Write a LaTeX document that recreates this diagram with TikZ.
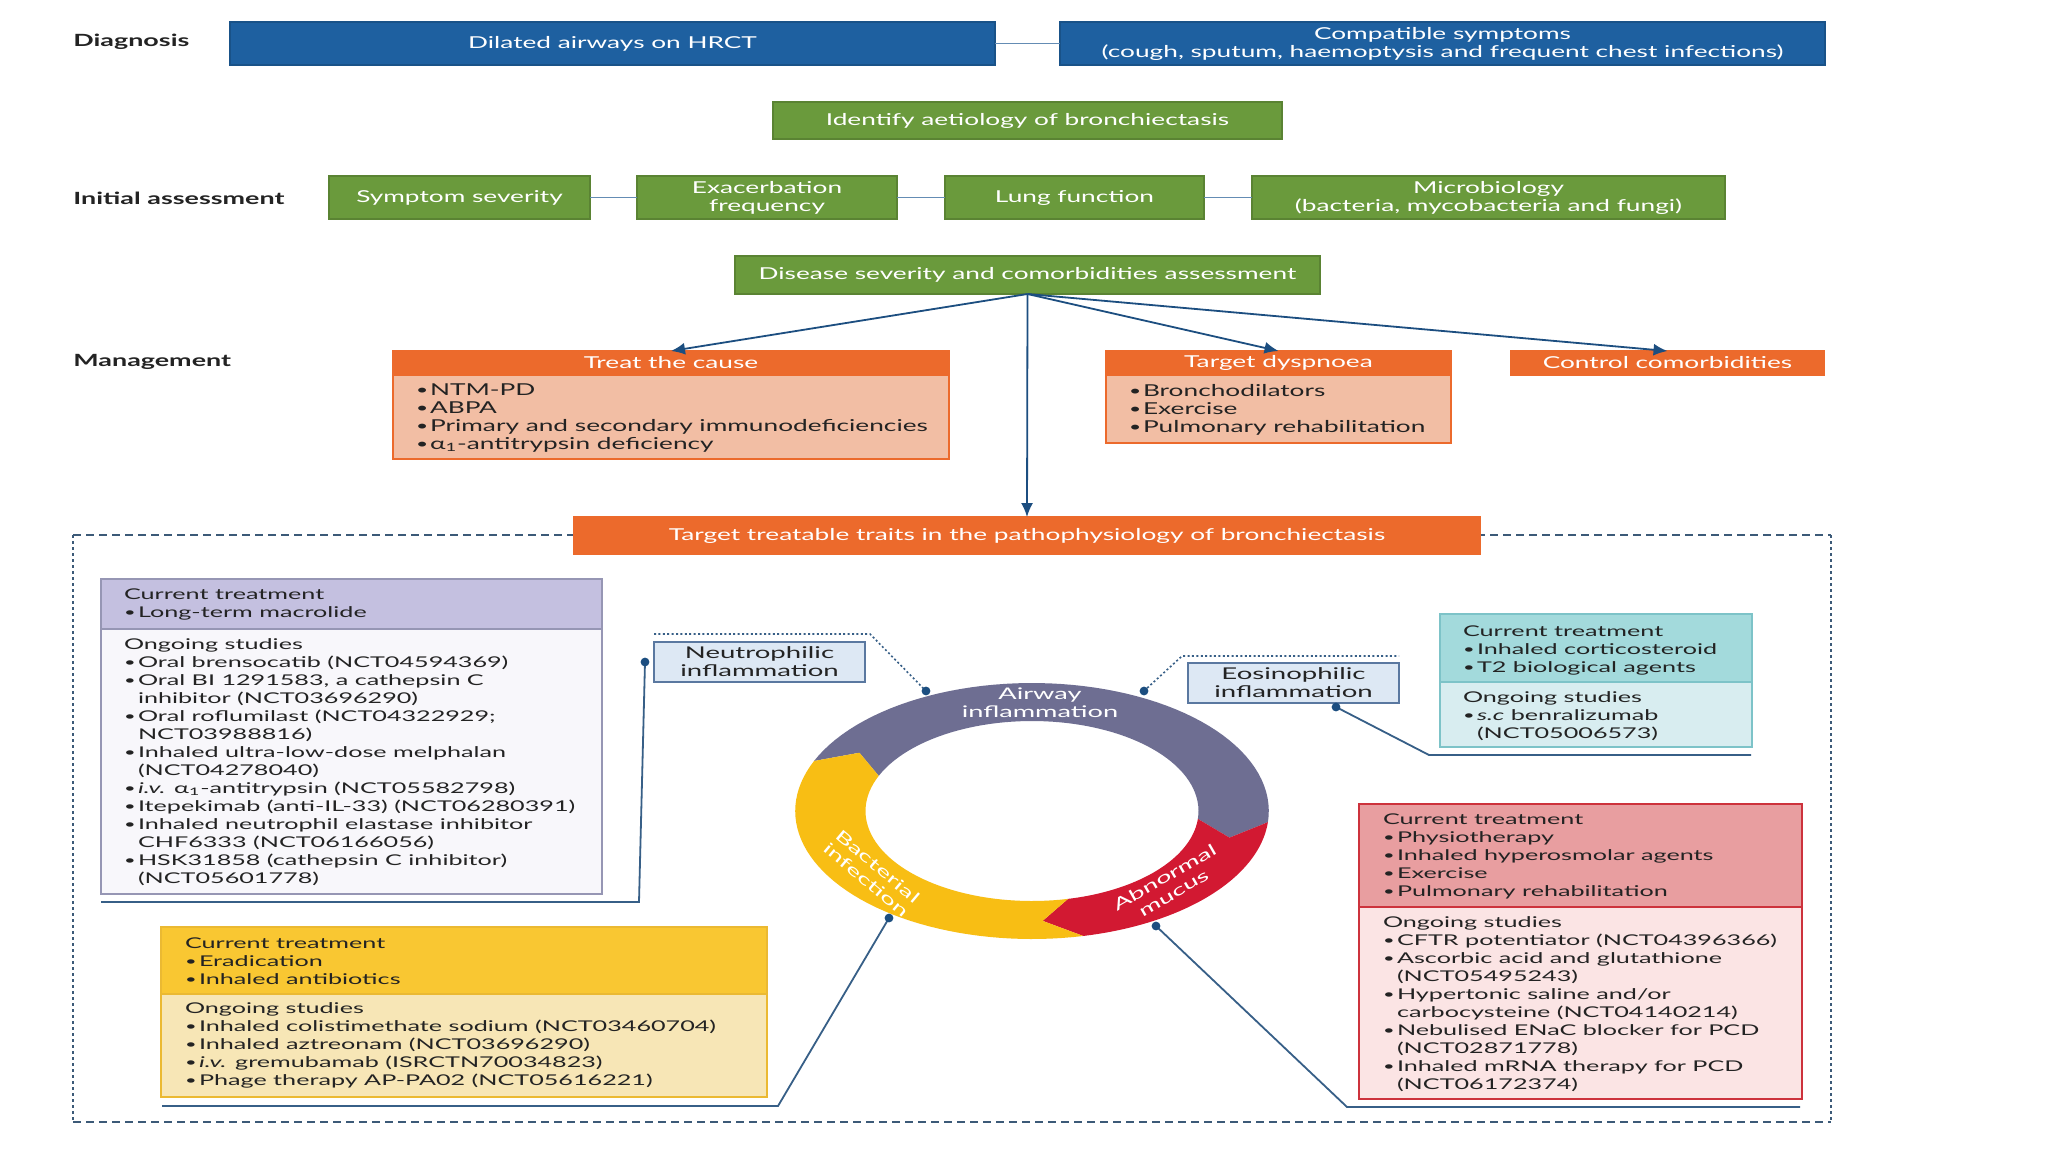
\documentclass[tikz,border=0pt]{standalone}
\usepackage{fontspec}
\usepackage{graphicx}
\setmainfont[FakeStretch=1.6]{Lato}
\newfontfamily\lowfont[FakeStretch=1.7]{Lato}
\usetikzlibrary{arrows.meta,calc}
\definecolor{dblue}{RGB}{30,96,160}
\definecolor{dgreen}{RGB}{106,154,60}
\definecolor{dorange}{RGB}{236,106,44}
\definecolor{salmon}{RGB}{242,190,164}
\definecolor{tdark}{RGB}{35,35,35}
\definecolor{cblue}{RGB}{100,140,180}
\definecolor{ablue}{RGB}{28,78,128}
\definecolor{lblue}{RGB}{55,95,135}
\definecolor{lavh}{RGB}{196,192,224}
\definecolor{lavb}{RGB}{248,247,251}
\definecolor{lavd}{RGB}{150,150,180}
\definecolor{teah}{RGB}{163,218,220}
\definecolor{teab}{RGB}{216,237,240}
\definecolor{tead}{RGB}{125,195,200}
\definecolor{redh}{RGB}{232,158,160}
\definecolor{redb}{RGB}{251,228,228}
\definecolor{redd}{RGB}{205,50,60}
\definecolor{yelh}{RGB}{249,199,50}
\definecolor{yelb}{RGB}{247,230,182}
\definecolor{yeld}{RGB}{235,185,50}
\definecolor{ringgray}{RGB}{110,110,146}
\definecolor{ringyel}{RGB}{248,190,20}
\definecolor{ringred}{RGB}{210,25,50}
\definecolor{infl}{RGB}{221,232,244}
\definecolor{infld}{RGB}{90,120,160}
\definecolor{cont}{RGB}{60,90,120}
\newcommand\ftop{\fontsize{8.2}{9}\selectfont}
\newcommand\fhd{\fontsize{8.2}{9}\selectfont}
\newcommand\fsm{\fontsize{8.2}{9}\selectfont}
\newcommand\flbl{\bfseries\fontsize{8.4}{9}\selectfont}
\newcommand\flow{\lowfont\fontsize{7.4}{9}\selectfont}
\newcommand\finf{\lowfont\fontsize{8.1}{9}\selectfont}
\newcommand\fring{\lowfont\fontsize{8}{9}\selectfont}
\newcommand\bl{\makebox[7pt][l]{\raisebox{0.1ex}{\scalebox{0.8}{\textbullet}}}}
\newcommand\ci{\hspace*{7pt}}
\newcommand\fl{\rule{0pt}{6pt}}
\newcommand\aone{α\textsubscript{1}}
\begin{document}
\begin{tikzpicture}[x=0.5pt,y=-0.5pt,
  box/.style={rectangle, draw, inner sep=0pt, outer sep=0pt, line width=0.6pt, align=center},
  bluebox/.style={box, fill=dblue, draw=dblue!85!black, text=white, font=\ftop},
  greenbox/.style={box, fill=dgreen, draw=dgreen!85!black, text=white, font=\ftop},
  orbox/.style={box, fill=dorange, draw=dorange, text=white, font=\fhd},
  salbody/.style={box, fill=salmon, draw=dorange},
  inflbox/.style={box, fill=infl, draw=infld, text=tdark, font=\finf},
  txt/.style={inner sep=0pt, outer sep=0pt, align=left, anchor=north west, text=tdark},
  lbl/.style={inner sep=0pt, anchor=west, font=\flbl, text=tdark},
  conn/.style={draw=cblue, line width=0.7pt},
  arr/.style={draw=ablue, line width=0.9pt, -{Latex[length=7pt,width=6pt]}},
  lconn/.style={draw=lblue, line width=0.9pt},
  dconn/.style={draw=lblue, line width=0.8pt, dash pattern=on 1pt off 1.2pt},
  hdash/.style={draw=cont, line width=0.6pt, dash pattern=on 4pt off 2.5pt},
  vdash/.style={draw=cont, line width=0.6pt, dash pattern=on 1.5pt off 1.5pt},
  ringtxt/.style={text=white, font=\fring, align=center, inner sep=0pt}
]
\fill[white] (0,0) rectangle (2048,1152);
\useasboundingbox (0,0) rectangle (2048,1152);

% container
\draw[hdash] (73,535) -- (1831,535);
\draw[hdash] (73,1122) -- (1831,1122);
\draw[vdash] (73,535) -- (73,1122);
\draw[vdash] (1831,535) -- (1831,1122);

% ---- top
\node[lbl] (ldiag) at (73,42) {Diagnosis};
\node[bluebox, minimum width=382.5pt, minimum height=21.5pt] (dil) at (612.5,43.5) {Dilated airways on HRCT};
\node[bluebox, minimum width=382.5pt, minimum height=21.5pt] (comp) at (1442.5,43.5) {Compatible symptoms\\(cough, sputum, haemoptysis and frequent chest infections)};
\draw[conn] (dil) -- (comp);

\node[greenbox, minimum width=254.5pt, minimum height=18.5pt] (aet) at (1027.5,120.5) {Identify aetiology of bronchiectasis};

\node[lbl] (linit) at (73,198) {Initial assessment};
\node[greenbox, minimum width=130.5pt, minimum height=21.5pt] (sym) at (459.5,197.5) {Symptom severity};
\node[greenbox, minimum width=130pt, minimum height=21.5pt] (exa) at (767,197.5) {Exacerbation\\frequency};
\node[greenbox, minimum width=129.5pt, minimum height=21.5pt] (lung) at (1074.5,197.5) {Lung function};
\node[greenbox, minimum width=236.5pt, minimum height=21.5pt] (micro) at (1488.5,197.5) {Microbiology\\(bacteria, mycobacteria and fungi)};
\draw[conn] (sym) -- (exa);
\draw[conn] (exa) -- (lung);
\draw[conn] (lung) -- (micro);

\node[greenbox, minimum width=292.5pt, minimum height=19pt] (dis) at (1027.5,275) {Disease severity and comorbidities assessment};

% ---- management
\node[lbl] (lman) at (73,362) {Management};
\node[orbox, minimum width=278pt, minimum height=12pt] (treat) at (671,363) {Treat the cause};
\node[salbody, minimum width=278pt, minimum height=42pt, anchor=north] (treatb) at (treat.south) {};
\node[txt, font=\fsm] (treatt) at (416,383) {\fl\bl NTM-PD\\\bl ABPA\\\bl Primary and secondary immunodeficiencies\\\bl \aone-antitrypsin deficiency};

\node[orbox, minimum width=172.5pt, minimum height=12pt] (dysp) at (1278.5,363) {Target dyspnoea};
\node[salbody, minimum width=172.5pt, minimum height=34pt, anchor=north] (dyspb) at (dysp.south) {};
\node[txt, font=\fsm] (dyspt) at (1129,384) {\fl\bl Bronchodilators\\\bl Exercise\\\bl Pulmonary rehabilitation};

\node[orbox, minimum width=156.5pt, minimum height=12pt] (ctrl) at (1667.5,363) {Control comorbidities};

\node[orbox, font=\ftop, minimum width=453.5pt, minimum height=18.5pt] (traits) at (1027,535.5) {Target treatable traits in the pathophysiology of bronchiectasis};

\draw[arr] (dis.south) -- (treat.north);
\draw[arr] (dis.south) -- (dysp.north);
\draw[arr] (dis.south) -- (ctrl.north);
\draw[arr] (dis.south) -- (traits.north);

% ---- ring
\def\cx{1032}\def\cy{811}\def\sx{1.85}\def\Ro{128}\def\Ri{90}\def\Rm{110}
\fill[ringgray] plot[domain=157:-5,samples=60] ({\cx+\sx*\Ro*cos(\x)},{\cy-\Ro*sin(\x)})
  -- ({\cx+\sx*\Rm*cos(-14)},{\cy-\Rm*sin(-14)})
  -- plot[domain=-5:157,samples=60] ({\cx+\sx*\Ri*cos(\x)},{\cy-\Ri*sin(\x)})
  -- ({\cx+\sx*\Rm*cos(148)},{\cy-\Rm*sin(148)}) -- cycle;
\fill[ringred] plot[domain=-5:-77.5,samples=40] ({\cx+\sx*\Ro*cos(\x)},{\cy-\Ro*sin(\x)})
  -- ({\cx+\sx*\Rm*cos(-87)},{\cy-\Rm*sin(-87)})
  -- plot[domain=-77.5:-5,samples=40] ({\cx+\sx*\Ri*cos(\x)},{\cy-\Ri*sin(\x)})
  -- ({\cx+\sx*\Rm*cos(-14)},{\cy-\Rm*sin(-14)}) -- cycle;
\fill[ringyel] plot[domain=-77.5:-203,samples=50] ({\cx+\sx*\Ro*cos(\x)},{\cy-\Ro*sin(\x)})
  -- ({\cx+\sx*\Rm*cos(-212)},{\cy-\Rm*sin(-212)})
  -- plot[domain=-203:-77.5,samples=50] ({\cx+\sx*\Ri*cos(\x)},{\cy-\Ri*sin(\x)})
  -- ({\cx+\sx*\Rm*cos(-87)},{\cy-\Rm*sin(-87)}) -- cycle;
\node[ringtxt] (airw) at (1040,703) {Airway\\inflammation};
\node[ringtxt, rotate=-40] (bact) at (872,873) {Bacterial\\infection};
\node[ringtxt, rotate=30] (abn) at (1169,885) {Abnormal\\mucus};

% ---- purple (neutrophilic)
\node[box, fill=lavh, draw=lavd, minimum width=250.5pt, minimum height=25pt] (ph) at (351.5,604) {};
\node[box, fill=lavb, draw=lavd, minimum width=250.5pt, minimum height=132.5pt, anchor=north] (pb) at (ph.south) {};
\node[txt, font=\flow] (pht) at (124,587) {\fl Current treatment\\\bl Long-term macrolide};
\node[txt, font=\flow] (pbt) at (124,637) {\fl Ongoing studies\\
\bl Oral brensocatib (NCT04594369)\\
\bl Oral BI 1291583, a cathepsin C\\
\ci inhibitor (NCT03696290)\\
\bl Oral roflumilast (NCT04322929;\\
\ci NCT03988816)\\
\bl Inhaled ultra-low-dose melphalan\\
\ci (NCT04278040)\\
\bl \textit{i.v.} \aone-antitrypsin (NCT05582798)\\
\bl Itepekimab (anti-IL-33) (NCT06280391)\\
\bl Inhaled neutrophil elastase inhibitor\\
\ci CHF6333 (NCT06166056)\\
\bl HSK31858 (cathepsin C inhibitor)\\
\ci (NCT05601778)};

\node[inflbox, minimum width=105.5pt, minimum height=20pt] (neu) at (759.5,662) {Neutrophilic\\inflammation};
\node[inflbox, minimum width=105.5pt, minimum height=20pt] (eos) at (1293.5,683) {Eosinophilic\\inflammation};

% ---- teal (eosinophilic)
\node[box, fill=teah, draw=tead, minimum width=156pt, minimum height=34pt] (th) at (1596,648) {};
\node[box, fill=teab, draw=tead, minimum width=156pt, minimum height=32.5pt, anchor=north] (tb) at (th.south) {};
\node[txt, font=\flow] (tht) at (1463,624) {\fl Current treatment\\\bl Inhaled corticosteroid\\\bl T2 biological agents};
\node[txt, font=\flow] (tbt) at (1463,690) {\fl Ongoing studies\\\bl \textit{s.c} benralizumab\\\ci (NCT05006573)};

% ---- red (mucus)
\node[box, fill=redh, draw=redd, minimum width=221.5pt, minimum height=51.5pt] (rh) at (1580.5,855.5) {};
\node[box, fill=redb, draw=redd, minimum width=221.5pt, minimum height=96pt, anchor=north] (rb) at (rh.south) {};
\node[txt, font=\flow] (rht) at (1383,812) {\fl Current treatment\\\bl Physiotherapy\\\bl Inhaled hyperosmolar agents\\\bl Exercise\\\bl Pulmonary rehabilitation};
\node[txt, font=\flow] (rbt) at (1383,915) {\fl Ongoing studies\\
\bl CFTR potentiator (NCT04396366)\\
\bl Ascorbic acid and glutathione\\
\ci (NCT05495243)\\
\bl Hypertonic saline and/or\\
\ci carbocysteine (NCT04140214)\\
\bl Nebulised ENaC blocker for PCD\\
\ci (NCT02871778)\\
\bl Inhaled mRNA therapy for PCD\\
\ci (NCT06172374)};

% ---- yellow (bacterial)
\node[box, fill=yelh, draw=yeld, minimum width=303pt, minimum height=33.5pt] (yh) at (464,960.5) {};
\node[box, fill=yelb, draw=yeld, minimum width=303pt, minimum height=51.5pt, anchor=north] (yb) at (yh.south) {};
\node[txt, font=\flow] (yht) at (185,936) {\fl Current treatment\\\bl Eradication\\\bl Inhaled antibiotics};
\node[txt, font=\flow] (ybt) at (185,1001) {\fl Ongoing studies\\
\bl Inhaled colistimethate sodium (NCT03460704)\\
\bl Inhaled aztreonam (NCT03696290)\\
\bl \textit{i.v.} gremubamab (ISRCTN70034823)\\
\bl Phage therapy AP-PA02 (NCT05616221)};

% ---- connectors lower
\coordinate (pL) at (101,902);
\coordinate (pC) at (639,902);
\coordinate (dNs) at (645,662);
\draw[lconn] (pL) -- (pC) -- (dNs);
\fill[ablue] (dNs) circle (2.2pt);

\coordinate (nA) at (654,634);
\coordinate (nB) at (870,634);
\coordinate (dNr) at (926,691);
\draw[dconn] (nA) -- (nB) -- (dNr);
\fill[ablue] (dNr) circle (2.2pt);

\coordinate (dEr) at (1144,691);
\coordinate (eB) at (1182,656);
\coordinate (eA) at (1399,656);
\draw[dconn] (dEr) -- (eB) -- (eA);
\fill[ablue] (dEr) circle (2.2pt);

\coordinate (dEs) at (1336,707);
\coordinate (eC) at (1429,755);
\coordinate (eD) at (1751,755);
\draw[lconn] (dEs) -- (eC) -- (eD);
\fill[ablue] (dEs) circle (2.2pt);

\coordinate (yL) at (162,1106);
\coordinate (yC) at (778,1106);
\coordinate (dY) at (889,918);
\draw[lconn] (yL) -- (yC) -- (dY);
\fill[ablue] (dY) circle (2.2pt);

\coordinate (dR) at (1156,926);
\coordinate (rC) at (1347,1107);
\coordinate (rD) at (1800,1107);
\draw[lconn] (dR) -- (rC) -- (rD);
\fill[ablue] (dR) circle (2.2pt);
\end{tikzpicture}
\end{document}
